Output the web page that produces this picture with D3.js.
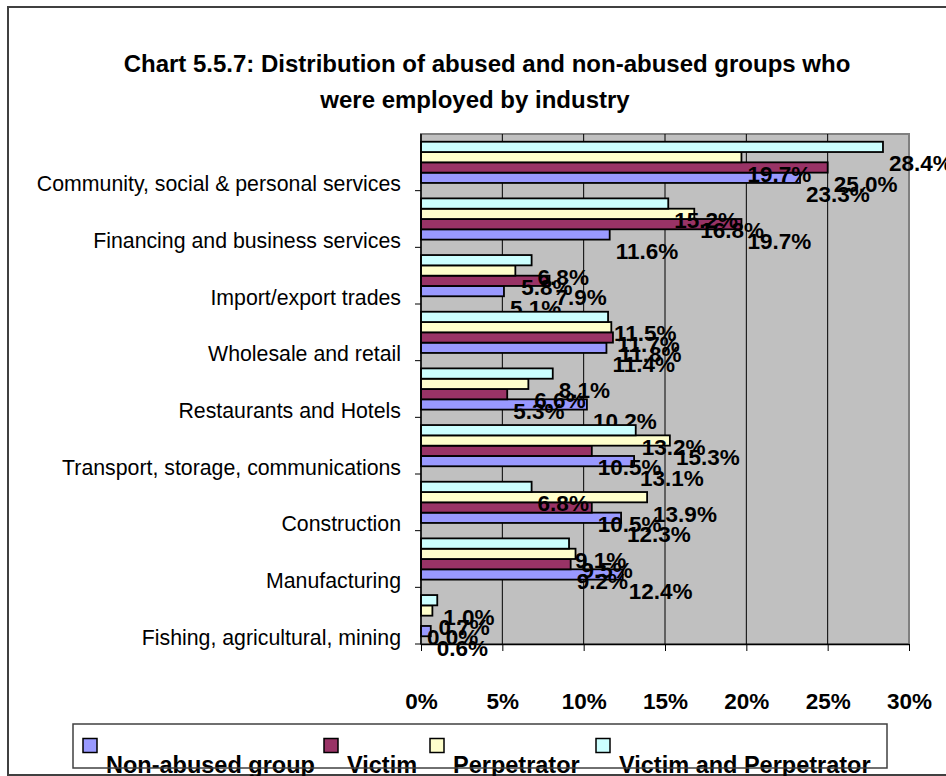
<!DOCTYPE html>
<html>
<head>
<meta charset="utf-8">
<script src="https://cdn.jsdelivr.net/npm/d3@7"></script>
<style>
  body { margin: 0; background: #fff; }
  svg { display: block; font-family: Arial, "Liberation Sans", sans-serif; }
</style>
</head>
<body>
<svg width="946" height="776"></svg>
<script>
// categories listed top to bottom as they appear
const categories = [
  'Community, social & personal services',
  'Financing and business services',
  'Import/export trades',
  'Wholesale and retail',
  'Restaurants and Hotels',
  'Transport, storage, communications',
  'Construction',
  'Manufacturing',
  'Fishing, agricultural, mining',
];
const seriesNames = ['Non-abused group', 'Victim', 'Perpetrator', 'Victim and Perpetrator'];
const nonAbused   = [23.3, 11.6, 5.1, 11.4, 10.2, 13.1, 12.3, 12.4, 0.6];
const victim      = [25.0, 19.7, 7.9, 11.8, 5.3, 10.5, 10.5, 9.2, 0.0];
const perpetrator = [19.7, 16.8, 5.8, 11.7, 6.6, 15.3, 13.9, 9.5, 0.7];
const victimPerp  = [28.4, 15.2, 6.8, 11.5, 8.1, 13.2, 6.8, 9.1, 1.0];
const xTicks = [0, 5, 10, 15, 20, 25, 30];

const colors = {
  'Non-abused group': '#9999ff',
  'Victim': '#993366',
  'Perpetrator': '#ffffcc',
  'Victim and Perpetrator': '#ccffff',
};
const values = {
  'Non-abused group': nonAbused,
  'Victim': victim,
  'Perpetrator': perpetrator,
  'Victim and Perpetrator': victimPerp,
};

const svg = d3.select('svg');
const plot = {left: 421, right: 909, top: 134, bottom: 644};

const x = d3.scaleLinear().domain([0, 30]).range([plot.left, plot.right]);
const y = d3.scaleBand().domain(categories).range([plot.top, plot.bottom]);
// within a band the last series sits on top
const inner = d3.scaleBand()
  .domain(seriesNames.slice().reverse())
  .range([0, y.bandwidth()])
  .paddingInner(0)
  .paddingOuter(0.75);

// outer chart border
svg.append('rect')
  .attr('x', 8).attr('y', 7).attr('width', 946).attr('height', 768)
  .attr('fill', '#fff').attr('stroke', '#404040').attr('stroke-width', 2);

// title
svg.append('text')
  .attr('x', 487).attr('y', 72)
  .attr('text-anchor', 'middle')
  .attr('font-size', 24).attr('font-weight', 'bold')
  .text('Chart 5.5.7: Distribution of abused and non-abused groups who');
svg.append('text')
  .attr('x', 475).attr('y', 108)
  .attr('text-anchor', 'middle')
  .attr('font-size', 24).attr('font-weight', 'bold')
  .text('were employed by industry');

// plot area
svg.append('rect')
  .attr('x', plot.left).attr('y', plot.top)
  .attr('width', plot.right - plot.left).attr('height', plot.bottom - plot.top)
  .attr('fill', '#c0c0c0').attr('stroke', '#808080').attr('stroke-width', 2);

svg.append('g')
  .selectAll('line')
  .data(xTicks.filter(d => d > 0 && d < 30))
  .join('line')
  .attr('x1', d => x(d)).attr('x2', d => x(d))
  .attr('y1', plot.top).attr('y2', plot.bottom)
  .attr('stroke', '#000').attr('stroke-width', 1);

// bars
const groups = svg.append('g')
  .selectAll('g')
  .data(categories)
  .join('g')
  .attr('transform', d => 'translate(0,' + y(d) + ')');

groups.selectAll('rect')
  .data((c, i) => seriesNames.map(s => ({s, v: values[s][i]})))
  .join('rect')
  .attr('x', x(0))
  .attr('y', d => inner(d.s))
  .attr('width', d => x(d.v) - x(0))
  .attr('height', inner.bandwidth())
  .attr('fill', d => colors[d.s])
  .attr('stroke', '#000')
  .attr('stroke-width', d => d.v > 0 ? 1.8 : 0);

// bottom axis
const xAxis = svg.append('g')
  .attr('transform', 'translate(0,' + plot.bottom + ')')
  .call(d3.axisBottom(x).tickValues(xTicks).tickSizeInner(7).tickSizeOuter(0)
    .tickPadding(42).tickFormat(d => d + '%'));
xAxis.select('.domain').attr('stroke', '#000').attr('stroke-width', 1.5);
xAxis.selectAll('.tick line').attr('stroke', '#000');
xAxis.selectAll('text')
  .attr('font-size', 22.5).attr('font-weight', 'bold')
  .attr('font-family', 'Arial, "Liberation Sans", sans-serif')
  .attr('fill', '#000');

// left axis: line and ticks between categories
svg.append('line')
  .attr('x1', plot.left).attr('x2', plot.left)
  .attr('y1', plot.top).attr('y2', plot.bottom)
  .attr('stroke', '#000').attr('stroke-width', 1.5);
svg.append('g')
  .selectAll('line')
  .data(categories.map(c => y(c) + y.bandwidth()))
  .join('line')
  .attr('x1', plot.left - 6).attr('x2', plot.left)
  .attr('y1', d => d).attr('y2', d => d)
  .attr('stroke', '#000');

svg.append('g')
  .selectAll('text')
  .data(categories)
  .join('text')
  .attr('x', 401)
  .attr('y', d => y(d) + y.bandwidth() / 2 + 29)
  .attr('text-anchor', 'end')
  .attr('font-size', 21.3)
  .attr('fill', '#000')
  .text(d => d);

// data labels, drawn after everything in the plot
groups.selectAll('text')
  .data((c, i) => seriesNames.map(s => ({s, v: values[s][i]})))
  .join('text')
  .attr('x', d => x(d.v) + 6)
  .attr('y', d => inner(d.s) + inner.bandwidth() / 2 + 17)
  .attr('dominant-baseline', 'central')
  .attr('font-size', 22.5)
  .attr('font-weight', 'bold')
  .attr('fill', '#000')
  .text(d => d.v.toFixed(1) + '%');

// legend
const legendX = [83, 324, 430, 596];
const legend = svg.append('g');
legend.append('rect')
  .attr('x', 73).attr('y', 724).attr('width', 814).attr('height', 44)
  .attr('fill', '#fff');
const items = legend.selectAll('g')
  .data(seriesNames)
  .join('g')
  .attr('transform', (d, i) => 'translate(' + legendX[i] + ',0)');
items.append('rect')
  .attr('x', 0).attr('y', 738.5).attr('width', 14).attr('height', 14)
  .attr('fill', d => colors[d]).attr('stroke', '#000').attr('stroke-width', 1.5);
items.append('text')
  .attr('x', 23).attr('y', 773)
  .attr('font-size', 23.5).attr('font-weight', 'bold')
  .attr('fill', '#000')
  .text(d => d);
legend.append('rect')
  .attr('x', 73).attr('y', 724).attr('width', 814).attr('height', 44)
  .attr('fill', 'none').attr('stroke', '#404040').attr('stroke-width', 1.5);
</script>
</body>
</html>
